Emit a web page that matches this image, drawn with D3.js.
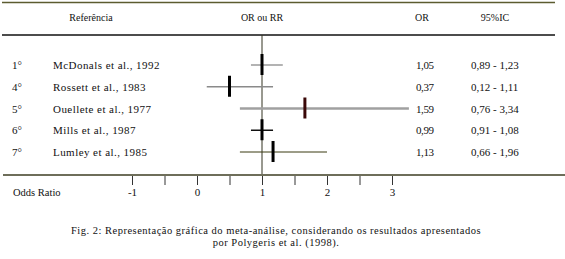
<!DOCTYPE html>
<html>
<head>
<meta charset="UTF-8">
<script src="https://cdn.jsdelivr.net/npm/d3@7"></script>
<style>
    body { margin: 0; background: #ffffff; }
</style>
</head>
<body>
<div id="container"></div>
<script>
    // dados do gráfico
    const ranks = ["1°", "4°", "5°", "6°", "7°"]
    const refs = ["McDonals et al., 1992", "Rossett et al., 1983", "Ouellete et al., 1977", "Mills et al., 1987", "Lumley et al., 1985"]
    const orLabels = ["1,05", "0,37", "1,59", "0,99", "1,13"]
    const icLabels = ["0,89 - 1,23", "0,12 - 1,11", "0,76 - 3,34", "0,91 - 1,08", "0,66 - 1,96"]
    // posições desenhadas
    const orPlot = [1.0, 0.5, 1.66, 1.0, 1.17]
    const loPlot = [0.83, 0.15, 0.66, 0.83, 0.66]
    const hiPlot = [1.32, 1.17, 3.26, 1.17, 2.0]
    const tickValues = [-1, -0.5, 0, 0.5, 1, 1.5, 2, 2.5, 3]
    const lineColors = ["#9a9a9a", "#8a8a8a", "#a0a0a0", "#111111", "#3a3a10"]
    const lineWidths = [1.5, 1.5, 2.5, 1.5, 1]
    const markColors = ["#000", "#000", "#3a0808", "#000", "#000"]

    const width = 565, height = 259
    const axisY = 175
    const serif = "Liberation Serif"

    const svg = d3.select("#container").append("svg")
        .attr("width", width)
        .attr("height", height)
        .style("font-family", serif)

    const x = d3.scaleLinear().domain([-1, 3]).range([132, 392])
    const y = d3.scalePoint().domain(d3.range(ranks.length)).range([65, 152])

    // linhas de cabeçalho
    svg.append("line").attr("x1", 2).attr("x2", 555).attr("y1", 2.5).attr("y2", 2.5)
        .attr("stroke", "#5c5c30").attr("stroke-width", 1.5)
    svg.append("line").attr("x1", 2).attr("x2", 555).attr("y1", 35).attr("y2", 35)
        .attr("stroke", "#111").attr("stroke-width", 1.5)

    const header = [["Referência", 91], ["OR ou RR", 262], ["OR", 422], ["95%IC", 495]]
    svg.selectAll(".hdr").data(header).enter().append("text")
        .attr("x", d => d[1]).attr("y", 21)
        .attr("text-anchor", "middle")
        .style("font-family", serif).style("font-size", "10px").attr("fill", "#111")
        .text(d => d[0])

    // linha vertical de OR = 1
    svg.append("line").attr("x1", x(1)).attr("x2", x(1)).attr("y1", 35).attr("y2", axisY)
        .attr("stroke", "#333320").attr("stroke-width", 1)

    // eixo
    const xAxis = d3.axisBottom(x).tickValues(tickValues).tickSize(10)
        .tickFormat(d => Number.isInteger(d) ? d : "")
    const gx = svg.append("g").attr("transform", `translate(0,${axisY})`).call(xAxis)
    gx.attr("font-family", null)
    gx.select(".domain").remove()
    gx.selectAll(".tick line").attr("stroke", "#333")
    gx.selectAll(".tick text").attr("y", 13)
        .style("font-family", serif).style("font-size", "11px").attr("fill", "#111")
    svg.append("line").attr("x1", 3).attr("x2", width).attr("y1", axisY).attr("y2", axisY)
        .attr("stroke", "#6e6e5a").attr("stroke-width", 2)
    svg.append("text").attr("x", 13).attr("y", 196)
        .style("font-family", serif).style("font-size", "10.5px").attr("fill", "#111")
        .text("Odds Ratio")

    const rows = d3.range(ranks.length)

    // intervalos
    svg.selectAll(".ci").data(rows).enter().append("line")
        .attr("x1", i => x(loPlot[i])).attr("x2", i => x(hiPlot[i]))
        .attr("y1", i => y(i)).attr("y2", i => y(i))
        .attr("stroke", i => lineColors[i]).attr("stroke-width", i => lineWidths[i])

    // marcas OR
    svg.selectAll(".mk").data(rows).enter().append("line")
        .attr("x1", i => x(orPlot[i])).attr("x2", i => x(orPlot[i]))
        .attr("y1", i => y(i) - 11).attr("y2", i => y(i) + 10)
        .attr("stroke", i => markColors[i]).attr("stroke-width", 3)

    // textos das linhas
    const txt = (arr, xp, ls) => svg.selectAll(null).data(rows).enter().append("text")
        .attr("x", xp).attr("y", i => y(i) + 4)
        .style("font-family", serif).style("font-size", "11px").attr("fill", "#111")
        .style("letter-spacing", ls + "px")
        .text(i => arr[i])
    txt(ranks, 12, 0)
    txt(refs, 53, 0.45)
    txt(orLabels, 416, -0.4)
    txt(icLabels, 471, 0)

    // legenda
    const caption = ["Fig. 2: Representação gráfica do meta-análise, considerando os resultados apresentados",
        "por Polygeris et al. (1998)."]
    svg.selectAll(".cap").data(caption).enter().append("text")
        .attr("x", 276).attr("y", (d, i) => 234 + i * 12)
        .attr("text-anchor", "middle")
        .style("font-family", serif).style("font-size", "10.5px").attr("fill", "#111")
        .style("letter-spacing", "0.5px")
        .text(d => d)
</script>
</body>
</html>
